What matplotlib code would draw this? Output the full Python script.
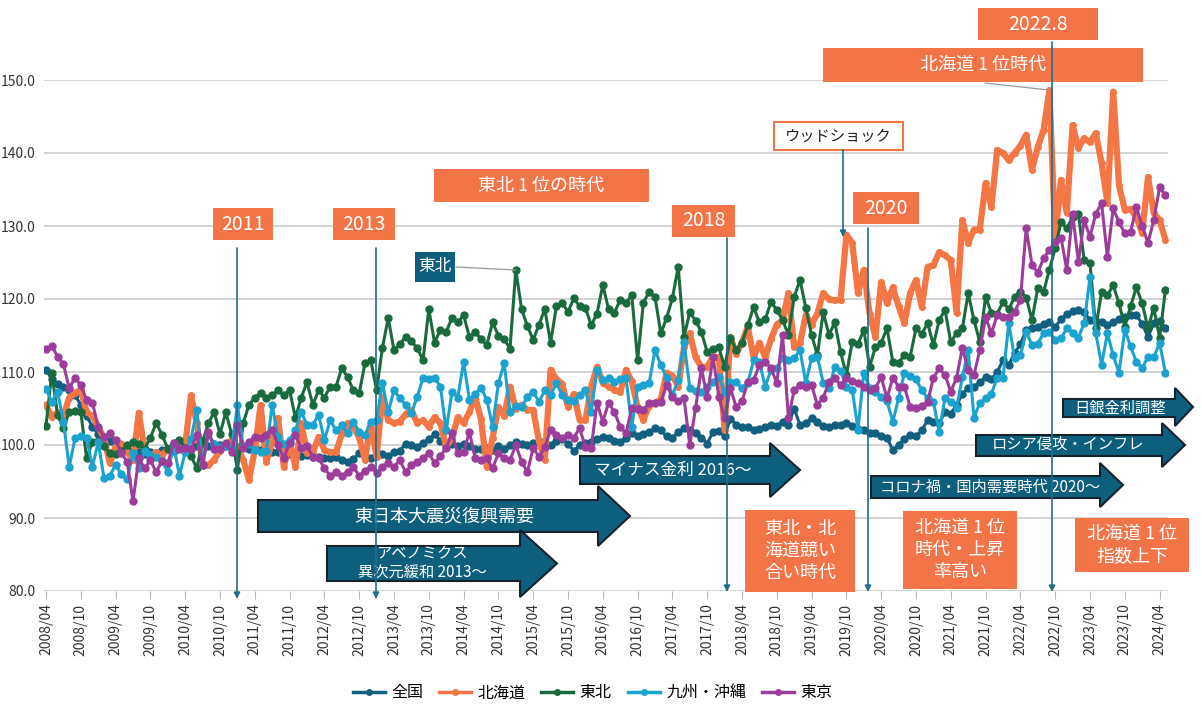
import matplotlib
matplotlib.use('Agg')
import matplotlib.pyplot as plt
import matplotlib.patches as mpatches
import matplotlib.transforms as mtransforms

plt.rcParams['font.family'] = ['Noto Sans CJK JP', 'DejaVu Sans']

# ---------------- data (monthly index, 2008/04 .. 2024/05) ----------------
tick_labels = ["2008/04", "2008/10", "2009/04", "2009/10", "2010/04", "2010/10",
               "2011/04", "2011/10", "2012/04", "2012/10", "2013/04", "2013/10",
               "2014/04", "2014/10", "2015/04", "2015/10", "2016/04", "2016/10",
               "2017/04", "2017/10", "2018/04", "2018/10", "2019/04", "2019/10",
               "2020/04", "2020/10", "2021/04", "2021/10", "2022/04", "2022/10",
               "2023/04", "2023/10", "2024/04"]

zenkoku = [110.3, 109.0, 108.4, 108.0, 107.5, 106.8, 105.5, 104.0, 102.5, 101.5, 101.0, 100.5,
           100.2, 99.8, 99.5, 99.2, 99.0, 98.8, 99.1, 98.9, 99.3, 99.5, 99.2, 99.6,
           99.8, 99.5, 99.9, 100.1, 99.8, 100.2, 100.0, 99.8, 100.1, 99.7, 99.8, 99.5,
           99.6, 99.3, 99.4, 99.0, 99.1, 98.9, 98.7, 98.8, 98.5, 98.6, 98.3, 98.4,
           98.2, 98.2, 98.4, 97.9, 97.7, 98.1, 98.9, 98.5, 98.2, 98.6, 98.8, 98.5,
           99.0, 99.2, 100.2, 100.0, 99.7, 100.3, 100.8, 101.5, 100.6, 100.0, 100.2, 99.8,
           100.1, 99.9, 99.5, 99.4, 99.6, 99.3, 99.8, 99.4, 100.0, 100.4, 100.2, 100.0,
           100.3, 100.5, 100.3, 100.0, 100.6, 100.8, 100.2, 99.2, 100.0, 100.3, 100.4, 100.8,
           101.1, 100.9, 100.6, 100.4, 101.0, 101.7, 101.2, 101.5, 101.8, 102.3, 102.0, 101.2,
           101.0, 101.8, 102.3, 102.1, 101.6, 101.0, 100.2, 101.8, 101.9, 101.2, 103.6, 102.8,
           102.4, 102.5, 102.0, 102.2, 102.4, 102.8, 102.6, 103.2, 102.8, 105.0, 102.7, 103.0,
           103.7, 103.2, 102.6, 102.4, 102.7, 102.8, 103.0, 102.6, 102.2, 102.0, 101.6, 101.7,
           101.3, 101.0, 99.3, 100.0, 100.8, 101.4, 101.2, 102.0, 103.4, 103.2, 103.0, 104.5,
           104.3, 105.5, 107.0, 107.8, 108.0, 108.6, 109.3, 109.0, 110.0, 111.6, 111.0, 112.6,
           113.8, 115.8, 116.0, 116.2, 116.6, 116.8, 116.2, 117.2, 118.0, 118.3, 118.5, 118.2,
           117.1, 117.0, 116.8, 116.4, 116.9, 117.2, 117.5, 117.8, 117.8, 116.6, 114.8, 116.7,
           117.0, 116.0]

hokkaido = [105.5, 103.8, 104.5, 104.0, 106.5, 107.1, 107.6, 104.5, 104.0, 102.5, 101.0, 97.5,
            99.8, 100.2, 99.0, 98.0, 104.4, 99.3, 98.5, 99.0, 98.6, 99.4, 99.8, 99.4,
            100.0, 106.8, 103.0, 97.5, 97.2, 98.0, 99.2, 99.8, 100.7, 99.5, 98.0, 95.2,
            99.3, 105.5, 97.7, 100.5, 103.7, 97.0, 100.5, 97.0, 103.0, 98.9, 99.0, 101.1,
            99.3, 99.0, 99.0, 101.5, 103.0, 102.5, 101.0, 98.0, 103.0, 98.4, 106.6, 103.4,
            103.0, 103.2, 104.2, 104.8, 103.0, 103.4, 102.5, 103.8, 103.0, 99.7, 101.0, 103.8,
            103.0, 104.5, 106.6, 103.5, 97.0, 101.0, 105.2, 104.0, 108.0, 105.0, 105.5, 104.8,
            104.8, 100.5, 98.0, 110.3, 109.0, 108.4, 105.2, 107.0, 103.4, 103.4, 108.0, 110.7,
            108.5, 108.0, 107.6, 107.2, 110.3, 108.7, 105.2, 103.4, 105.4, 105.8, 106.2, 109.9,
            109.5, 108.0, 113.4, 115.3, 112.0, 110.7, 110.7, 112.1, 112.0, 102.0, 114.8, 112.5,
            114.0, 116.2, 112.0, 114.0, 112.0, 114.5, 116.5, 117.1, 120.8, 113.4, 114.0, 117.8,
            116.5, 118.0, 120.8, 120.0, 119.8, 119.9, 128.8, 127.7, 120.8, 124.0, 118.0, 114.8,
            122.3, 119.4, 121.6, 119.0, 116.7, 120.8, 122.6, 118.9, 124.4, 124.6, 126.4, 126.0,
            125.3, 118.1, 130.8, 127.7, 129.5, 129.5, 135.9, 132.6, 140.4, 140.0, 139.0, 140.0,
            141.0, 142.5, 137.7, 140.8, 143.2, 148.6, 128.5, 136.3, 131.8, 143.8, 140.7, 142.0,
            141.5, 142.7, 138.6, 133.2, 148.4, 135.6, 132.2, 132.3, 131.2, 129.0, 136.7, 131.8,
            130.8, 128.1]

tohoku = [102.6, 109.9, 104.1, 102.3, 104.5, 104.6, 104.5, 98.2, 100.4, 100.6, 99.8, 98.9,
          98.7, 99.2, 100.0, 100.4, 100.2, 99.5, 101.0, 103.0, 101.4, 99.5, 100.3, 100.7,
          99.6, 98.5, 96.8, 100.5, 103.0, 104.5, 101.5, 104.5, 101.5, 96.6, 103.0, 105.5,
          106.5, 107.1, 106.5, 106.8, 107.5, 106.8, 107.5, 103.7, 106.5, 108.6, 105.5, 107.5,
          106.5, 108.0, 108.0, 110.5, 109.3, 107.5, 107.1, 111.2, 111.6, 107.5, 113.3, 117.4,
          113.0, 113.8, 114.8, 114.2, 113.3, 111.6, 118.6, 114.0, 115.8, 115.5, 117.4, 116.8,
          117.8, 114.8, 115.5, 114.5, 113.7, 116.8, 115.0, 114.5, 113.2, 124.0, 118.6, 116.3,
          114.4, 116.5, 118.6, 114.0, 119.0, 119.5, 118.2, 120.1, 119.0, 118.8, 116.4, 118.0,
          121.9, 118.6, 118.1, 119.9, 119.5, 120.5, 111.6, 119.5, 121.0, 120.3, 115.3, 117.4,
          120.1, 124.4, 114.8, 118.2, 117.0, 115.5, 112.7, 113.2, 113.4, 110.7, 114.7, 113.0,
          114.0, 116.4, 118.9, 116.8, 117.2, 119.6, 118.5, 117.1, 115.1, 120.3, 122.6, 118.8,
          115.1, 112.3, 118.2, 115.1, 116.8, 112.7, 109.6, 114.1, 113.8, 115.8, 110.7, 113.4,
          114.0, 116.0, 111.4, 111.3, 112.3, 112.1, 116.0, 115.2, 116.7, 113.7, 117.1, 118.5,
          114.1, 115.3, 116.0, 120.8, 117.1, 114.1, 120.3, 118.1, 118.0, 119.6, 118.6, 120.3,
          121.0, 120.2, 117.1, 121.5, 121.0, 124.0, 127.0, 130.5, 129.7, 131.2, 131.7, 125.3,
          124.9, 116.0, 121.0, 120.5, 121.9, 119.4, 116.2, 119.0, 121.6, 119.4, 116.0, 118.8,
          114.7, 121.2]

kyushu = [107.7, 105.9, 107.3, 103.2, 97.0, 100.9, 101.2, 101.0, 97.0, 100.4, 95.5, 95.8,
          97.3, 96.0, 95.3, 98.9, 96.8, 99.2, 98.6, 98.4, 97.8, 96.3, 100.0, 95.8,
          99.0, 100.8, 104.8, 97.3, 101.5, 100.2, 99.7, 99.8, 99.5, 105.5, 99.8, 100.2,
          99.3, 99.0, 99.2, 105.5, 101.1, 100.2, 100.7, 102.0, 104.5, 102.8, 102.8, 104.1,
          100.7, 103.4, 102.0, 102.7, 101.6, 103.2, 101.8, 101.4, 103.2, 103.4, 108.5, 104.5,
          107.5, 106.4, 105.5, 104.4, 106.6, 109.2, 109.0, 109.2, 108.0, 102.0, 107.3, 106.5,
          111.4, 106.2, 107.0, 107.8, 106.2, 102.5, 108.5, 111.2, 104.5, 105.4, 105.2, 106.6,
          107.3, 105.9, 107.5, 106.8, 108.5, 106.8, 106.2, 106.0, 106.8, 107.5, 104.5, 110.3,
          108.9, 109.2, 108.6, 109.0, 109.2, 102.5, 108.0, 108.2, 108.5, 113.0, 111.0, 109.2,
          106.8, 108.9, 114.1, 107.8, 107.4, 107.3, 108.0, 108.6, 109.3, 107.3, 108.6, 108.6,
          107.8, 108.5, 111.6, 111.4, 108.0, 110.3, 110.5, 111.9, 111.6, 111.9, 113.0, 108.5,
          111.9, 112.1, 108.5, 107.8, 110.7, 110.2, 108.0, 107.6, 102.1, 109.9, 107.8, 107.3,
          106.6, 106.0, 103.2, 106.4, 109.9, 109.5, 109.0, 107.5, 106.4, 105.9, 101.8, 106.4,
          105.9, 105.1, 109.3, 113.0, 103.7, 105.8, 106.4, 107.0, 109.2, 109.2, 116.7, 111.9,
          112.3, 115.5, 113.7, 113.9, 115.3, 115.5, 114.4, 114.6, 116.0, 115.4, 114.7, 116.7,
          123.0, 115.3, 111.0, 115.3, 112.3, 109.9, 115.8, 113.5, 111.4, 110.5, 112.1, 112.0,
          114.0, 109.9]

tokyo = [113.2, 113.6, 112.1, 111.1, 107.8, 109.2, 108.2, 106.2, 105.8, 102.5, 101.1, 101.6,
         100.7, 98.9, 97.7, 92.3, 98.2, 96.8, 97.9, 96.3, 97.8, 97.5, 100.3, 99.5,
         99.6, 99.5, 101.4, 97.3, 101.8, 99.5, 99.5, 100.3, 99.0, 102.7, 99.6, 100.4,
         101.1, 100.9, 101.4, 102.1, 100.0, 98.2, 100.3, 101.4, 99.6, 99.8, 98.4, 98.2,
         96.8, 95.8, 96.3, 95.8, 96.3, 97.0, 95.8, 96.5, 97.0, 96.2, 97.0, 97.5,
         97.0, 97.9, 96.3, 97.2, 97.7, 98.2, 98.9, 97.5, 98.5, 99.6, 101.6, 98.9,
         99.0, 101.8, 98.2, 98.0, 98.2, 96.8, 98.9, 98.2, 97.9, 100.0, 97.7, 96.3,
         99.6, 98.4, 99.7, 102.1, 101.4, 101.0, 101.4, 101.0, 102.3, 99.7, 99.6, 105.8,
         103.2, 105.8, 104.5, 102.5, 101.6, 105.1, 104.9, 104.8, 105.8, 105.8, 105.9, 108.2,
         106.6, 106.0, 106.4, 100.0, 105.1, 110.5, 106.6, 112.1, 106.6, 103.7, 107.8, 105.2,
         106.0, 108.6, 108.9, 110.9, 111.4, 110.5, 108.5, 115.1, 103.7, 107.5, 108.2, 108.0,
         108.2, 105.5, 106.5, 108.6, 109.2, 108.2, 109.2, 108.8, 108.5, 108.0, 107.5, 107.8,
         109.3, 106.4, 109.2, 108.0, 108.0, 105.2, 105.1, 105.3, 105.9, 109.2, 110.5, 109.6,
         107.3, 109.2, 113.3, 110.3, 109.6, 113.0, 117.5, 115.3, 117.8, 117.6, 117.5, 118.2,
         119.9, 129.7, 124.7, 123.6, 125.6, 126.7, 127.8, 128.4, 124.0, 131.7, 125.1, 130.8,
         128.5, 131.7, 133.1, 125.8, 132.4, 130.5, 129.0, 129.2, 132.6, 130.0, 127.7, 130.8,
         135.3, 134.2]

series_names = ["全国", "北海道", "東北", "九州・沖縄", "東京"]
series_values = [zenkoku, hokkaido, tohoku, kyushu, tokyo]
series_colors = ["#125f7f", "#f47645", "#196b3d", "#1ba2cf", "#9c3c9b"]
series_lw = [2.2, 4.5, 2.2, 2.2, 2.2]
series_ms = [5, 4, 5, 5, 5]

# ---------------- figure ----------------
W, H = 1202, 710
fig = plt.figure(figsize=(W / 100, H / 100), dpi=100)
ax = fig.add_axes([44 / W, 1 - 591 / H, (1168 - 44) / W, (591 - 80) / H])

x = list(range(len(zenkoku)))
for name, vals, c, lw, ms in zip(series_names, series_values, series_colors, series_lw, series_ms):
    ax.plot(x, vals, color=c, lw=lw, marker='o', ms=ms, mec=c, mfc=c, label=name,
            solid_joinstyle='round')

ax.set_xlim(-0.345, 193.45)
ax.set_ylim(80, 150)
ax.set_yticks(range(80, 151, 10))
ax.set_yticklabels([f"{v:.1f}" for v in range(80, 151, 10)], fontsize=10, color='#333333')
ax.set_xticks(range(0, 193, 6))
ax.set_xticklabels(tick_labels, rotation=90, fontsize=10, color='#333333')
ax.tick_params(axis='x', length=6, color='#bbbbbb', pad=3)
ax.tick_params(axis='y', length=0, pad=6)
for s in ax.spines.values():
    s.set_visible(False)
ax.grid(axis='y', color='#d0d0d0', lw=1.3)
ax.set_axisbelow(True)

# legend
leg = fig.legend(loc='center', bbox_to_anchor=(0.493, 1 - 693 / H), ncol=5, frameon=False,
                 fontsize=11.5, handlelength=2.0, columnspacing=1.0, handletextpad=0.4)
for h in leg.legend_handles:
    h.set_markersize(4)
    h.set_linewidth(2.5)

# ---------------- annotations (pixel coords from top-left) ----------------
T = mtransforms.Affine2D().scale(1 / W, -1 / H).translate(0, 1) + fig.transFigure
ORANGE = "#f37446"
DARK = "#0e5f7e"
LINEC = "#1f6d90"


def box(x0, y0, x1, y1, text, fc=ORANGE, tc='white', fs=13, ec='none', elw=0, ls=1.25):
    r = mpatches.Rectangle((x0, y0), x1 - x0, y1 - y0, transform=T, facecolor=fc,
                           edgecolor=ec, lw=elw, zorder=5)
    fig.add_artist(r)
    fig.text((x0 + x1) / 2, (y0 + y1) / 2, text, transform=T, ha='center', va='center',
             color=tc, fontsize=fs, zorder=6, linespacing=ls)


def vline(xp, y0, y1, arrow=True):
    a = mpatches.FancyArrowPatch((xp, y0), (xp, y1), transform=T,
                                 arrowstyle='-|>' if arrow else '-', mutation_scale=9,
                                 color=LINEC, lw=1.2, shrinkA=0, shrinkB=0, zorder=7)
    fig.add_artist(a)


def block_arrow(x0, xh, tip, yt, yb, hyt, hyb, text, fs=12, tx=None, ls=1.2):
    ym = (yt + yb) / 2
    pts = [(x0, yt), (xh, yt), (xh, hyt), (tip, (hyt + hyb) / 2), (xh, hyb), (xh, yb), (x0, yb)]
    p = mpatches.Polygon(pts, closed=True, transform=T, facecolor=DARK, edgecolor='#14232b',
                         lw=1.5, zorder=4, joinstyle='miter')
    fig.add_artist(p)
    fig.text(tx if tx is not None else (x0 + xh) / 2, ym, text, transform=T, ha='center',
             va='center', color='white', fontsize=fs, zorder=6, linespacing=ls)


def connector(p0, p1):
    l = mpatches.FancyArrowPatch(p0, p1, transform=T, arrowstyle='-', color='#999999',
                                 lw=0.9, shrinkA=0, shrinkB=0, zorder=5)
    fig.add_artist(l)


# block arrows
block_arrow(258, 598, 630, 500, 532, 486, 546, "東日本大震災復興需要", fs=13, tx=444)
block_arrow(327, 520, 557, 546, 581, 530, 597, "アベノミクス\n異次元緩和 2013〜", fs=11, tx=422)
block_arrow(580, 770, 800, 456, 484, 443, 497, "マイナス金利 2016〜", fs=12, tx=673)
block_arrow(871, 1100, 1123, 476, 498, 463, 507, "コロナ禍・国内需要時代 2020〜", fs=11, tx=990)
block_arrow(976, 1162, 1185, 435, 456, 423, 467, "ロシア侵攻・インフレ", fs=11, tx=1068)
block_arrow(1063, 1175, 1193, 399, 417, 388, 426, "日銀金利調整", fs=11, tx=1120)

# vertical marker lines
vline(237, 248, 599)
vline(376, 248, 599)
vline(727, 238, 592)
vline(868, 228, 592)
vline(1052, 42, 592)
vline(843, 150, 237)

# orange labels
box(213, 208, 273, 240, "2011", fs=14)
box(333, 208, 395, 240, "2013", fs=14)
box(672, 205, 735, 237, "2018", fs=14)
box(853, 192, 919, 224, "2020", fs=14)
box(978, 8, 1098, 40, "2022.8", fs=14)
box(434, 169, 649, 202, "東北 1 位の時代", fs=13)
box(823, 48, 1143, 82, "北海道 1 位時代", fs=13)
box(745, 510, 855, 592, "東北・北\n海道競い\n合い時代", fs=13, ls=1.3)
box(903, 511, 1017, 589, "北海道 1 位\n時代・上昇\n率高い", fs=13, ls=1.3)
box(1075, 518, 1189, 572, "北海道 1 位\n指数上下", fs=13, ls=1.3)

# other labels
box(774, 122, 903, 150, "ウッドショック", fc='white', tc='#222222', fs=11, ec=ORANGE, elw=1.5)
box(415, 252, 455, 282, "東北", fc=DARK, fs=12)
connector((456, 267), (516, 270))
connector((985, 83), (1049, 90))

fig.savefig("out.png", dpi=100)
